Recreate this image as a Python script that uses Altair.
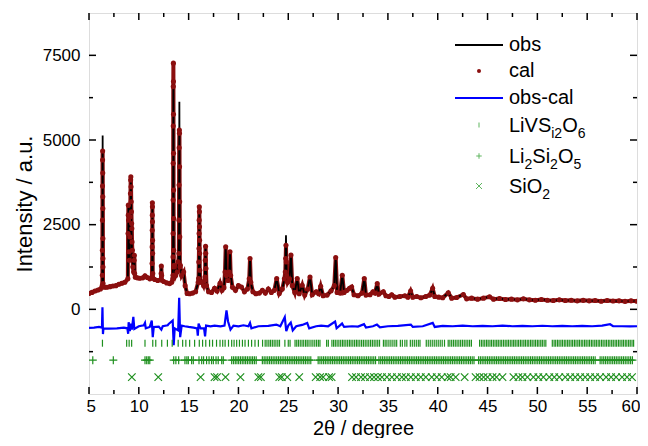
import altair as alt
import pandas as pd

# ---------------- data ----------------
# shared background / minor reflections (2theta, intensity)
base_x = [5.00, 5.30, 5.60, 5.90, 6.15, 6.55, 6.80, 7.10, 7.40, 7.70, 8.00, 8.30, 8.60,
          9.85, 10.10, 10.40, 10.62, 10.85, 11.10, 11.60, 11.90, 12.50, 12.80, 13.10, 13.30,
          13.70, 13.85, 14.30, 14.50, 14.65, 14.85, 15.10, 15.40, 15.70, 16.35, 16.50,
          17.00, 17.30, 17.60, 17.85, 18.15, 18.35, 18.55, 18.65, 18.72, 18.80, 18.95, 19.08,
          19.15, 19.22, 19.40, 19.70, 20.00, 20.30, 20.60, 20.90, 21.08, 21.16, 21.24, 21.45,
          21.75, 22.10, 22.40, 22.70, 23.00, 23.30, 23.60, 23.84, 24.10, 24.40,
          25.12, 25.27, 25.40, 25.65, 25.90, 26.10, 26.40, 26.65, 26.95, 27.18, 27.40, 27.80,
          28.05, 28.25, 28.50, 28.90, 29.30, 29.62, 29.76, 29.90, 30.20, 30.42, 30.60, 30.90,
          31.15, 31.36, 31.60, 32.00, 32.40, 32.63, 32.80, 33.20, 33.50, 33.70, 33.93, 34.10,
          34.54, 34.80, 35.10, 35.38, 35.70, 36.20, 36.70, 37.00, 37.28, 37.50, 37.90, 38.30,
          38.80, 39.20, 39.49, 39.70, 40.10, 40.50, 41.06, 41.40, 41.90, 42.57, 42.90, 43.40,
          44.00, 44.60, 45.20, 45.60, 46.20, 46.80, 47.40, 48.00, 48.60, 49.20, 49.80, 50.40,
          51.00, 51.60, 52.20, 52.80, 53.40, 54.00, 54.60, 55.20, 55.80, 56.40, 57.00, 57.60,
          58.20, 58.80, 59.40, 60.00]
base_y = [470, 500, 540, 570, 600, 650, 650, 670, 690, 700, 740, 770, 800,
          930, 920, 930, 990, 940, 900, 880, 850, 820, 780, 760, 800,
          1000, 1100, 1000, 1100, 700, 470, 460, 480, 520, 800, 700,
          520, 500, 620, 540, 770, 560, 640, 1100, 1850, 1000, 850, 1100,
          1700, 1000, 650, 560, 700, 660, 520, 600, 900, 1500, 800, 520,
          460, 480, 560, 480, 600, 500, 560, 910, 470, 600,
          900, 1600, 700, 500, 910, 460, 710, 420, 600, 955, 430, 520,
          460, 680, 400, 420, 550, 700, 1530, 500, 480, 1006, 500, 560,
          620, 660, 430, 400, 480, 908, 420, 430, 520, 480, 760, 450,
          520, 400, 380, 430, 360, 380, 400, 360, 540, 360, 380, 340,
          380, 420, 620, 380, 360, 340, 490, 330, 350, 440, 310, 330,
          300, 330, 370, 300, 320, 290, 300, 280, 310, 280, 270, 290,
          270, 260, 280, 260, 270, 250, 265, 250, 260, 240, 260, 245,
          250, 235, 250, 240]

# strong reflections, observed profile
obs_pk_x = [6.33, 6.35, 6.37, 6.39, 6.42,
            8.90, 8.93, 8.96, 9.02, 9.08, 9.13, 9.20, 9.26, 9.32, 9.40, 9.50, 9.55, 9.60, 9.65,
            11.31, 11.34, 11.36, 11.39, 11.42,
            12.21, 12.26, 12.31,
            13.41, 13.44, 13.47, 13.50, 13.54,
            13.96, 14.03, 14.07, 14.11, 14.17,
            15.96, 16.02, 16.07, 16.12, 16.19,
            16.61, 16.65, 16.70, 16.74, 16.79,
            24.61, 24.70, 24.77, 24.84, 24.94]
obs_pk_y = [700, 1500, 5130, 1400, 680,
            900, 1600, 3000, 1700, 1500, 2500, 3850, 2400, 1700, 1300, 1200, 1600, 1100, 950,
            950, 1500, 3100, 1400, 920,
            880, 1280, 860,
            900, 2000, 6780, 2000, 1300,
            1400, 2000, 6130, 1700, 1300,
            800, 1200, 2950, 1200, 800,
            850, 1300, 1900, 1100, 700,
            900, 1100, 2190, 1000, 800]

# strong reflections, calculated points
cal_pk_x = [6.330, 6.340, 6.345, 6.350, 6.355, 6.360, 6.370, 6.380, 6.385, 6.390, 6.395, 6.400, 6.405, 6.410, 6.420,
            8.90, 8.92, 8.94, 8.95, 8.97, 9.00, 9.05, 9.10, 9.13, 9.16, 9.18, 9.20, 9.22, 9.24, 9.26,
            9.28, 9.30, 9.32, 9.35, 9.40, 9.48, 9.53, 9.55, 9.58, 9.65,
            11.31, 11.33, 11.34, 11.35, 11.355, 11.36, 11.365, 11.37, 11.38, 11.39, 11.40, 11.42,
            12.21, 12.24, 12.26, 12.29, 12.31,
            13.41, 13.43, 13.435, 13.44, 13.445, 13.45, 13.455, 13.46, 13.47, 13.475, 13.48, 13.485,
            13.49, 13.495, 13.50, 13.51, 13.54,
            13.96, 14.02, 14.03, 14.04, 14.05, 14.07, 14.08, 14.09, 14.10, 14.11, 14.12, 14.17,
            15.96, 16.00, 16.02, 16.04, 16.05, 16.06, 16.07, 16.08, 16.09, 16.10, 16.11, 16.12, 16.19,
            16.61, 16.65, 16.67, 16.70, 16.72, 16.74, 16.79,
            24.61, 24.70, 24.74, 24.77, 24.80, 24.84, 24.94]
cal_pk_y = [700, 1006, 1746, 2633, 3639, 4408, 4675, 4024, 3323, 2979, 2091, 1500, 1252, 760, 680,
            900, 2239, 2781, 3077, 2633, 1700, 1450, 2139, 2731, 3422, 3817, 3914, 3619, 3175, 2879,
            2535, 2387, 1991, 1746, 1252, 1100, 1450, 1598, 1056, 950,
            950, 1352, 1843, 2337, 2781, 3145, 3027, 2583, 2041, 1648, 1056, 920,
            880, 1056, 1281, 1000, 860,
            900, 1006, 1548, 2239, 3225, 4310, 5414, 6577, 7269, 6725, 5760, 4606,
            3521, 2683, 1746, 1252, 1300,
            1400, 1648, 2633, 3669, 4773, 5296, 5198, 4211, 3175, 2139, 1252, 1300,
            800, 908, 1399, 1795, 2239, 2633, 3027, 2879, 2435, 2041, 1648, 1154, 800,
            850, 955, 1450, 1864, 1648, 1204, 700,
            900, 1100, 1500, 1893, 1400, 1000, 800]

# difference curve obs-cal (offset)
diff_x = [5.0, 5.5, 6.0, 6.30, 6.35, 6.40, 6.45, 7.0, 7.8, 8.5, 8.85, 8.93, 8.98, 9.10, 9.20,
          9.30, 9.45, 9.55, 10.0, 10.5, 10.62, 10.70, 11.1, 11.30, 11.40, 11.50, 12.0, 12.26,
          12.40, 12.9, 13.0, 13.40, 13.50, 13.60, 13.95, 14.05, 14.15, 14.30, 14.6, 15.0, 15.5,
          15.85, 15.92, 16.00, 16.10, 16.20, 16.55, 16.65, 16.75, 17.2, 17.6, 18.2, 18.6, 18.80,
          18.95, 19.10, 19.2, 19.5, 20.0, 20.5, 21.0, 21.16, 21.3, 22.0, 23.0, 23.8, 24.2, 24.65,
          24.80, 25.0, 25.25, 25.45, 25.8, 26.4, 26.9, 27.1, 27.8, 28.3, 29.0, 29.7, 29.85, 30.40,
          30.6, 31.4, 32.0, 32.6, 32.8, 33.5, 33.9, 34.2, 35.0, 36.0, 37.3, 37.5, 38.5, 39.5,
          39.7, 40.5, 41.5, 42.5, 43.5, 44.5, 45.5, 46.5, 47.5, 48.5, 49.5, 50.5, 51.5, 52.5,
          53.5, 54.5, 55.5, 56.5, 57.3, 57.6, 58.5, 59.3, 60.0]
diff_y = [-550, -540, -520, -540, 60, -730, -560, -570, -560, -540, -560, -720, -380, -640, -420,
          -600, -220, -580, -500, -470, -400, -560, -520, -330, -820, -520, -510, -600,
          -500, -470, -430, -330, -1060, -560, -620, 340, -820, -480, -500, -520, -540,
          -560, -780, -420, -500, -560, -560, -800, -480, -500, -480, -500, -480, -30,
          -350, -500, -600, -480, -500, -470, -500, -400, -560, -500, -490, -450, -500, -230,
          -640, -480, -390, -620, -500, -460, -400, -560, -500, -480, -500, -360, -560, -420,
          -520, -500, -510, -440, -540, -500, -450, -530, -500, -490, -450, -520, -500, -400,
          -520, -490, -500, -480, -500, -490, -500, -480, -500, -490, -500, -485, -500, -490,
          -500, -490, -500, -480, -440, -500, -500, -505, -500]

# reflection positions of the three phases
livsi2o6_pos = [6.35, 8.78, 9.03, 9.28, 10.62, 11.40, 11.70, 12.30, 12.87, 13.35, 13.95, 14.40,
                14.72, 15.10, 15.60, 16.07, 16.40, 16.72, 17.10, 17.40, 17.80, 18.15, 18.42, 18.66,
                19.00, 19.32, 19.56, 19.82, 20.10, 20.40, 20.66, 21.00, 21.32, 21.66, 22.00, 22.42,
                22.68, 22.86, 23.05, 23.22, 23.40, 23.58, 23.76, 23.95, 24.12, 24.66, 25.00, 25.18,
                25.68, 25.85, 26.02, 26.20, 26.38, 26.55, 26.74, 26.90, 27.08, 27.28, 27.47, 27.66,
                27.84, 28.02, 28.18, 28.85, 29.02, 29.38, 29.55, 29.72, 29.90, 30.08, 30.26, 30.44,
                30.60, 30.78, 30.96, 31.14, 31.30, 31.48, 31.66, 31.84, 32.00, 32.18, 32.36, 32.54,
                32.72, 32.90, 33.08, 33.26, 33.44, 33.62, 33.80, 33.98, 34.16, 34.55, 34.72, 34.90,
                35.10, 35.30, 35.50, 35.70, 35.88, 36.25, 36.45, 36.70, 36.90, 37.25, 37.45, 37.65,
                37.85, 38.05, 38.22, 38.85, 39.05, 39.25, 39.45, 39.65, 39.85, 40.05, 40.25, 40.45,
                40.68, 41.05, 41.22, 41.40, 41.58, 41.76, 41.94, 42.12, 42.30, 42.48, 42.66, 42.84,
                43.02, 43.20, 43.38, 44.20, 44.38, 44.55, 44.72, 44.90, 45.06, 45.24, 45.40, 45.58,
                45.75, 45.92, 46.08, 46.26, 46.42, 46.60, 46.77, 46.94, 47.10, 47.28, 47.45, 47.62,
                47.78, 47.96, 48.12, 48.30, 48.46, 48.64, 48.80, 48.98, 49.14, 49.32, 49.48, 49.66,
                49.82, 50.00, 50.16, 50.34, 50.50, 50.68, 50.85, 51.50, 51.68, 51.84, 52.02, 52.18,
                52.36, 52.52, 52.70, 52.86, 53.04, 53.20, 53.38, 53.54, 53.72, 53.88, 54.06, 54.22,
                54.40, 54.56, 54.74, 54.90, 55.08, 55.24, 55.42, 55.58, 55.76, 55.92, 56.10, 56.26,
                56.44, 56.60, 56.78, 56.94, 57.12, 57.28, 57.46, 57.62, 57.80, 57.96, 58.14, 58.30,
                58.48, 58.64, 58.82, 58.98, 59.16, 59.32, 59.50, 59.66]
li2si2o5_pos = [5.38, 7.44, 10.62, 10.79, 10.95, 11.10, 13.50, 13.72, 14.00, 14.63, 14.82, 14.97,
                15.30, 15.47, 16.04, 16.31, 16.50, 16.80, 17.05, 17.30, 17.48, 17.75, 17.97, 18.32,
                18.48, 19.32, 19.50, 19.68, 19.85, 20.02, 20.20, 20.38, 20.55, 20.72, 20.90, 21.08,
                21.25, 21.42, 21.60, 21.78, 22.40, 22.58, 22.76, 22.94, 23.12, 23.30, 23.48, 23.66,
                23.84, 24.02, 24.20, 24.38, 24.56, 24.74, 24.92, 25.10, 25.28, 25.46, 25.64, 25.82,
                26.00, 26.18, 26.36, 26.54, 26.72, 26.90, 27.08, 27.26, 28.00, 28.18, 28.36, 28.54,
                28.72, 28.90, 29.08, 29.26, 29.44, 29.62, 29.80, 29.98, 30.16, 30.34, 30.52, 30.70,
                30.88, 31.06, 31.24, 31.42, 31.60, 31.78, 31.96, 32.14, 32.32, 32.50, 32.68, 32.86,
                33.04, 33.22, 33.40, 33.58, 33.76, 34.10, 34.28, 34.46, 34.64, 34.82, 35.00, 35.18,
                35.36, 35.54, 35.72, 35.90, 36.08, 36.26, 36.44, 36.62, 36.80, 36.98, 37.16, 37.34,
                37.52, 37.70, 37.88, 38.06, 38.24, 38.42, 38.60, 38.78, 38.96, 39.14, 39.32, 39.50,
                39.68, 39.86, 40.04, 40.22, 40.40, 40.58, 40.76, 40.94, 41.12, 41.30, 41.48, 41.66,
                41.84, 42.02, 42.20, 42.38, 42.56, 42.74, 42.92, 43.10, 43.28, 43.46, 43.64, 44.10,
                44.28, 44.46, 44.64, 44.82, 45.00, 45.18, 45.36, 45.54, 45.72, 45.90, 46.08, 46.26,
                46.44, 46.62, 46.80, 46.98, 47.16, 47.34, 47.52, 47.70, 47.88, 48.06, 48.24, 48.42,
                48.60, 48.78, 48.96, 49.14, 49.32, 49.50, 49.68, 49.86, 50.04, 50.22, 50.40, 50.58,
                50.76, 50.94, 51.12, 51.30, 51.48, 51.66, 51.84, 52.02, 52.20, 52.38, 52.56, 52.74,
                52.92, 53.10, 53.28, 53.46, 53.64, 53.82, 54.00, 54.18, 54.36, 54.54, 54.72, 54.90,
                55.08, 55.26, 55.44, 55.62, 55.80, 56.30, 56.48, 56.66, 56.84, 57.02, 57.20, 57.38,
                57.56, 57.74, 57.92, 58.10, 58.28, 58.46, 58.64, 58.82, 59.00, 59.18, 59.36, 59.54]
sio2_pos = [9.30, 11.95, 16.20, 17.60, 17.85, 18.70, 20.20, 22.00, 22.25, 24.10, 24.35, 24.90,
            26.10, 27.75, 28.20, 28.50, 29.10, 29.35, 31.40, 31.80, 32.30, 32.70, 33.20, 33.60,
            34.00, 34.40, 34.90, 35.40, 35.90, 36.40, 36.80, 37.30, 37.80, 38.30, 38.80, 39.40,
            39.90, 40.40, 41.00, 41.30, 41.80, 42.70, 43.80, 44.20, 44.60, 45.00, 45.50, 45.90,
            46.50, 47.60, 48.10, 48.50, 49.00, 49.60, 50.10, 50.60, 51.20, 51.70, 52.20, 52.80,
            53.30, 53.80, 54.30, 54.80, 55.30, 55.80, 56.30, 56.90, 57.40, 57.90, 58.50, 59.00,
            59.50]
phase_levels = [-1000, -1500, -2000]

x_major = [5, 10, 15, 20, 25, 30, 35, 40, 45, 50, 55, 60]
x_minor = [7.5, 12.5, 17.5, 22.5, 27.5, 32.5, 37.5, 42.5, 47.5, 52.5, 57.5]
y_major = [0, 2500, 5000, 7500]
y_minor = [-1250, 1250, 3750, 6250]

# ---------------- chart ----------------
W, H = 548, 381
FONT = "Liberation Sans"
GREEN = "#1f901f"
DARKRED = "#8b0f0f"

xs = alt.Scale(domain=[5, 60], nice=False, zero=False)
ys = alt.Scale(domain=[-2500, 8750], nice=False, zero=False)
xaxis = alt.Axis(values=x_major, title="2θ / degree", ticks=False, tickSize=0, domain=False,
                 grid=False, labelFlush=True, labelFlushOffset=3, labelPadding=4,
                 labelFontSize=17, titleFontSize=20, titleFontWeight="normal", titlePadding=4,
                 format="d", labelFont=FONT, titleFont=FONT, labelColor="black",
                 titleColor="black")
yaxis = alt.Axis(values=y_major, title="Intensity / a.u.", ticks=False, tickSize=0, domain=False,
                 grid=False, labelPadding=9, labelFontSize=17, titleFontSize=22,
                 titleFontWeight="normal", titlePadding=6, format="d",
                 labelFont=FONT, titleFont=FONT, labelColor="black", titleColor="black")
X = alt.X("x:Q", scale=xs, axis=xaxis)
Y = alt.Y("y:Q", scale=ys, axis=yaxis)


def merged(px, py):
    d = pd.DataFrame({"x": base_x + px, "y": base_y + py})
    d = d.sort_values("x", kind="stable").reset_index(drop=True)
    d["i"] = range(len(d))
    return d


obs_df = merged(obs_pk_x, obs_pk_y)
cal_df = merged(cal_pk_x, cal_pk_y)
diff_df = pd.DataFrame({"x": diff_x, "y": diff_y, "i": range(len(diff_x))})

cal_line = alt.Chart(cal_df).mark_line(color=DARKRED, strokeWidth=4, clip=True).encode(
    x=X, y=Y, order="i:Q")
obs_line = alt.Chart(obs_df).mark_line(color="black", strokeWidth=1.8, clip=True).encode(
    x=X, y=Y, order="i:Q")
cal_pts = alt.Chart(cal_df).mark_point(filled=True, color=DARKRED, size=26, opacity=1,
                                       clip=True).encode(x=X, y=Y)
diff_line = alt.Chart(diff_df).mark_line(color="#0000ff", strokeWidth=2.2, clip=True).encode(
    x=X, y=Y, order="i:Q")

SHAPE_BAR = "M0,-1L0,1"
SHAPE_PLUS = "M-1,0L1,0M0,-1L0,1"
SHAPE_X = "M-1,-1L1,1M-1,1L1,-1"

phase_layers = []
for pos, lvl, shp, sz in [(livsi2o6_pos, phase_levels[0], SHAPE_BAR, 49),
                          (li2si2o5_pos, phase_levels[1], SHAPE_PLUS, 64),
                          (sio2_pos, phase_levels[2], SHAPE_X, 56)]:
    d = pd.DataFrame({"x": pos, "y": [lvl] * len(pos)})
    phase_layers.append(
        alt.Chart(d).mark_point(shape=shp, filled=False, color=GREEN, strokeWidth=1.2,
                                size=sz, opacity=1, clip=True).encode(x=X, y=Y))

# inward ticks on all four sides
tick_layers = []
for vals, ln in [(x_major, 7), (x_minor, 4)]:
    d = pd.DataFrame({"x": vals})
    tick_layers.append(alt.Chart(d).mark_rule(color="black", strokeWidth=1.5).encode(
        x=X, y=alt.value(H), y2=alt.value(H - ln)))
    tick_layers.append(alt.Chart(d).mark_rule(color="black", strokeWidth=1.5).encode(
        x=X, y=alt.value(0), y2=alt.value(ln)))
for vals, ln in [(y_major, 7), (y_minor, 4)]:
    d = pd.DataFrame({"y": vals})
    tick_layers.append(alt.Chart(d).mark_rule(color="black", strokeWidth=1.5).encode(
        y=Y, x=alt.value(0), x2=alt.value(ln)))
    tick_layers.append(alt.Chart(d).mark_rule(color="black", strokeWidth=1.5).encode(
        y=Y, x=alt.value(W), x2=alt.value(W - ln)))

# ---------------- legend (drawn by hand for sub-scripts) ----------------
dummy = pd.DataFrame({"a": [0]})
SYM_X, TXT_X = 390, 420
LEG_FS, SUB_FS, SUB_DY = 20, 14, 6
ARIAL = {"L": 556, "i": 222, "V": 667, "S": 667, "O": 778, "2": 556, "5": 556, "6": 556}

legend_layers = []


def leg_text(txt, x, y, size, baseline="alphabetic"):
    return alt.Chart(dummy).mark_text(text=txt, font=FONT, fontSize=size, align="left",
                                      baseline=baseline, color="black").encode(
        x=alt.value(x), y=alt.value(y))


def formula(parts, cy):
    layers = []
    x = TXT_X
    base = cy + 7
    for txt, sub in parts:
        fs = SUB_FS if sub else LEG_FS
        layers.append(leg_text(txt, x, base + (SUB_DY if sub else 0), fs))
        x += sum(ARIAL[c] for c in txt) / 1000 * fs
    return layers


rows_y = [32, 58, 85, 112, 143, 173]
legend_layers.append(alt.Chart(dummy).mark_rule(color="black", strokeWidth=2.2).encode(
    x=alt.value(SYM_X - 24), x2=alt.value(SYM_X + 24), y=alt.value(rows_y[0])))
legend_layers.append(leg_text("obs", TXT_X, rows_y[0], LEG_FS, "middle"))
legend_layers.append(alt.Chart(dummy).mark_point(filled=True, color=DARKRED, size=16,
                                                 opacity=1).encode(
    x=alt.value(SYM_X), y=alt.value(rows_y[1])))
legend_layers.append(leg_text("cal", TXT_X, rows_y[1], LEG_FS, "middle"))
legend_layers.append(alt.Chart(dummy).mark_rule(color="#0000ff", strokeWidth=2.2).encode(
    x=alt.value(SYM_X - 24), x2=alt.value(SYM_X + 24), y=alt.value(rows_y[2])))
legend_layers.append(leg_text("obs-cal", TXT_X, rows_y[2], LEG_FS, "middle"))
for shp, sz, ry in [(SHAPE_BAR, 25, rows_y[3]), (SHAPE_PLUS, 30, rows_y[4]), (SHAPE_X, 36, rows_y[5])]:
    legend_layers.append(alt.Chart(dummy).mark_point(shape=shp, filled=False, color="#5fb55f",
                                                     strokeWidth=1, size=sz, opacity=1).encode(
        x=alt.value(SYM_X), y=alt.value(ry)))
legend_layers += formula([("LiVS", False), ("i2", True), ("O", False), ("6", True)], rows_y[3])
legend_layers += formula([("Li", False), ("2", True), ("Si", False), ("2", True),
                          ("O", False), ("5", True)], rows_y[4])
legend_layers += formula([("SiO", False), ("2", True)], rows_y[5])

chart = alt.layer(
    cal_line, obs_line, cal_pts, diff_line, *phase_layers, *tick_layers, *legend_layers
).properties(
    width=W, height=H, autosize=alt.AutoSizeParams(type="none"),
    padding={"left": 81, "top": 5, "right": 3, "bottom": 44},
).configure_view(
    stroke="black", strokeWidth=2
).configure_axis(
    labelFont=FONT, titleFont=FONT, labelColor="black", titleColor="black",
    titleFontWeight="normal"
).configure(background="white")

chart.save("out.html", embed_options={"renderer": "svg", "actions": False})
